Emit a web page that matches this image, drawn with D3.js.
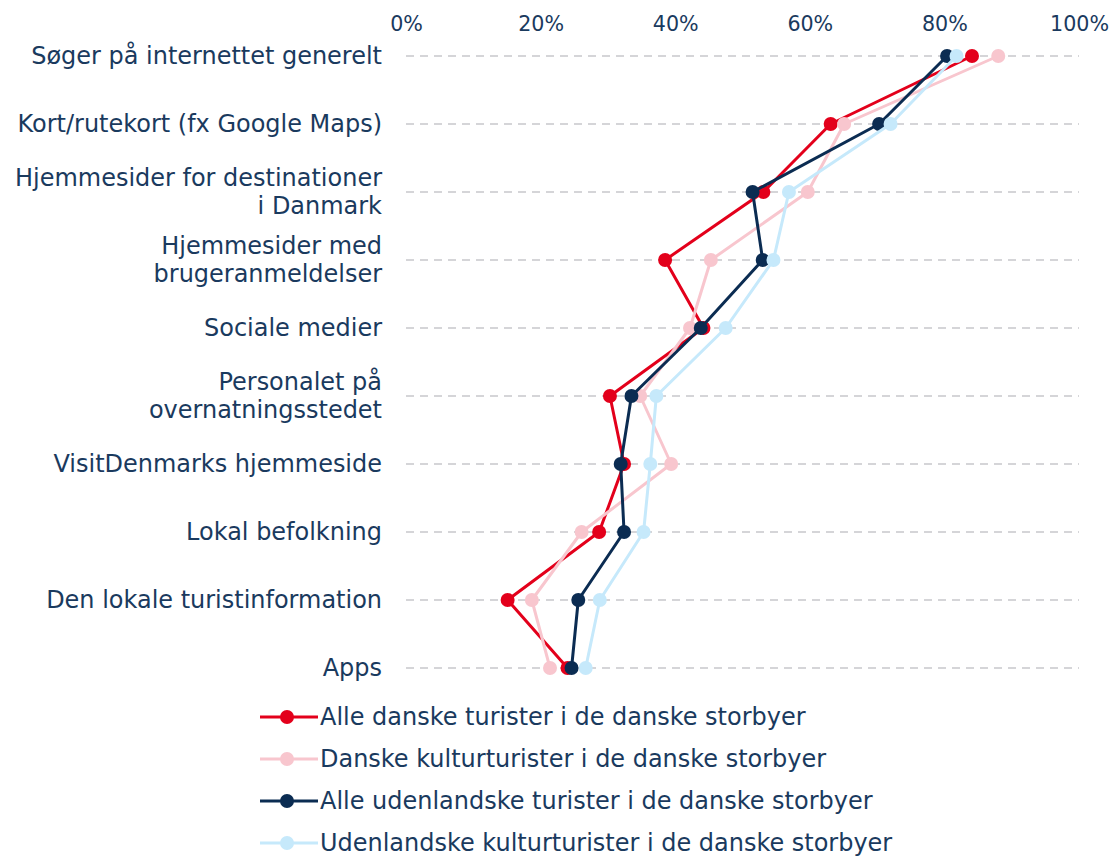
<!DOCTYPE html>
<html><head><meta charset="utf-8">
<script src="https://cdn.jsdelivr.net/npm/d3@7"></script>
<style>
body{margin:0;background:#fff;}
svg{display:block;font-family:"DejaVu Sans",sans-serif;}
</style></head>
<body><svg id="c" width="1112" height="856"></svg>
<script>
const categories = [
  ["Søger på internettet generelt"],
  ["Kort/rutekort (fx Google Maps)"],
  ["Hjemmesider for destinationer","i Danmark"],
  ["Hjemmesider med","brugeranmeldelser"],
  ["Sociale medier"],
  ["Personalet på","overnatningsstedet"],
  ["VisitDenmarks hjemmeside"],
  ["Lokal befolkning"],
  ["Den lokale turistinformation"],
  ["Apps"]
];
const seriesNames = [
  "Alle danske turister i de danske storbyer",
  "Danske kulturturister i de danske storbyer",
  "Alle udenlandske turister i de danske storbyer",
  "Udenlandske kulturturister i de danske storbyer"
];
const alleDanske        = [84.1, 63.1, 53.1, 38.5, 44.2, 30.3, 32.4, 28.7, 15.1, 24.0];
const danskeKultur      = [88.0, 65.1, 59.7, 45.3, 42.2, 34.8, 39.4, 26.1, 18.7, 21.4];
const alleUdenlandske   = [80.4, 70.3, 51.5, 53.0, 43.8, 33.5, 31.9, 32.4, 25.6, 24.6];
const udenlandskeKultur = [81.8, 72.0, 56.9, 54.6, 47.5, 37.2, 36.3, 35.3, 28.8, 26.7];
const tickValues = [0, 20, 40, 60, 80, 100];
const colors = ["#e3001b", "#f8c6ce", "#0b2c52", "#c6e9fb"];

const series = [alleDanske, danskeKultur, alleUdenlandske, udenlandskeKultur];
const textColor = "#1a3a5e";

const svg = d3.select("#c");

// fit font sizes to the reference text widths
function fit(str, target){
  const p = svg.append("text").attr("font-size", 20).text(str);
  const w = p.node().getComputedTextLength();
  p.remove();
  return 20 * target / w;
}
const FS = fit(categories[0][0], 351);
const AFS = fit("100%", 59);

const x = d3.scaleLinear().domain([0,100]).range([406,1079]);
const y = d3.scalePoint().domain(d3.range(categories.length)).range([56,668]);

// grid
svg.append("g").selectAll("line").data(d3.range(categories.length)).join("line")
  .attr("x1", x(0)).attr("x2", x(100))
  .attr("y1", d=>y(d)).attr("y2", d=>y(d))
  .attr("stroke", "#c8c8cc").attr("stroke-width", 1.5).attr("stroke-dasharray", "8,6");

// top axis
const ax = svg.append("g").attr("transform","translate(0,24)")
  .call(d3.axisTop(x).tickValues(tickValues).tickFormat(d=>d+"%").tickSize(0).tickPadding(0));
ax.select(".domain").remove();
ax.selectAll("text").attr("font-size", AFS).attr("fill", textColor)
  .attr("font-family", '"DejaVu Sans",sans-serif').attr("dy","0.35em");

// category labels
const lab = svg.append("g").selectAll("text").data(categories).join("text")
  .attr("x", 382).attr("text-anchor","end").attr("font-size", FS).attr("fill", textColor);
lab.each(function(d,i){
  const t = d3.select(this);
  const n = d.length, lh = 28;
  d.forEach((s,k)=>{
    t.append("tspan").attr("x",382)
     .attr("y", y(i) + (k-(n-1)/2)*lh).attr("dy","0.35em").text(s);
  });
});

// lines and markers
const line = d3.line().x(d=>x(d.v)).y(d=>y(d.i));
series.forEach((s,si)=>{
  const pts = s.map((v,i)=>({v,i}));
  const g = svg.append("g");
  g.append("path").datum(pts).attr("d", line).attr("fill","none")
    .attr("stroke", colors[si]).attr("stroke-width", 3).attr("stroke-linejoin","round");
  g.selectAll("circle").data(pts).join("circle")
    .attr("cx", d=>x(d.v)).attr("cy", d=>y(d.i)).attr("r", 7).attr("fill", colors[si]);
});

// legend
const lg = svg.append("g").selectAll("g").data(seriesNames).join("g")
  .attr("transform",(d,i)=>`translate(0,${717 + i*42})`);
lg.append("line").attr("x1",260).attr("x2",318).attr("y1",0).attr("y2",0)
  .attr("stroke",(d,i)=>colors[i]).attr("stroke-width",3);
lg.append("circle").attr("cx",287).attr("cy",0).attr("r",7).attr("fill",(d,i)=>colors[i]);
lg.append("text").attr("x",320).attr("y",0).attr("dy","0.35em")
  .attr("font-size",FS).attr("fill",textColor).text(d=>d);
</script></body></html>
